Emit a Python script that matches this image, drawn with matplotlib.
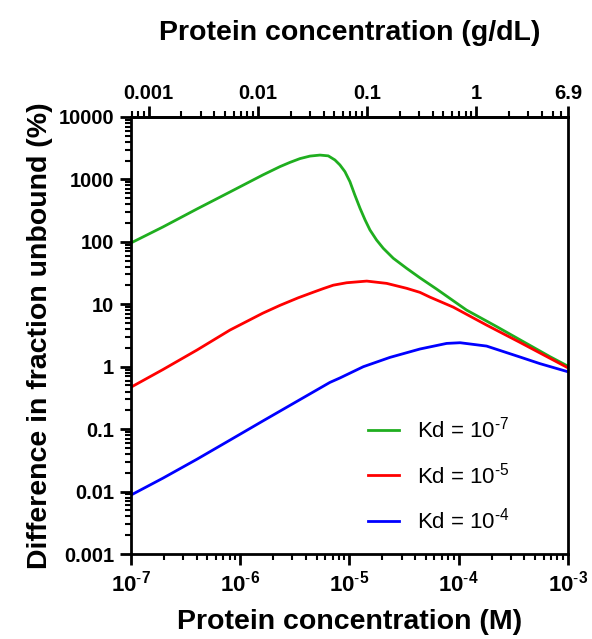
import numpy as np
import matplotlib
matplotlib.use("Agg")
import matplotlib.pyplot as plt
from matplotlib.ticker import LogLocator, NullFormatter, FixedLocator, FixedFormatter

plt.rcParams['font.family'] = ['Liberation Sans', 'DejaVu Sans']
plt.rcParams['mathtext.fontset'] = 'custom'
plt.rcParams['mathtext.rm'] = 'Liberation Sans'
plt.rcParams['mathtext.bf'] = 'Liberation Sans:bold'

# values (x in M, y in %)
green_x = [1e-7, 1.96e-7, 4.02e-7, 8.05e-7, 1.61e-6, 2.31e-6, 2.85e-6, 3.52e-6, 4.35e-6,
           5.37e-6, 6.4e-6, 7.36e-6, 8.18e-6, 9.09e-6, 1.01e-5, 1.12e-5, 1.25e-5, 1.39e-5,
           1.54e-5, 1.77e-5, 2.04e-5, 2.52e-5, 3.34e-5, 4.42e-5, 6.28e-5, 1.18e-4, 2.22e-4,
           3.64e-4, 6.84e-4, 1e-3]
green_y = [96, 173, 336, 628, 1177, 1600, 1870, 2150, 2360,
           2450, 2380, 2046, 1702, 1329, 919, 562, 344, 224,
           155, 107, 78.7, 54.5, 37.6, 26.5, 17.5, 8.07, 4.4,
           2.7, 1.45, 1.02]

red_x = [1e-7, 1.96e-7, 4.02e-7, 8.05e-7, 1.61e-6, 2.31e-6, 3.4e-6, 4.67e-6, 5.75e-6,
         7.11e-6, 9.42e-6, 1.44e-5, 2.19e-5, 3.34e-5, 4.42e-5, 5.46e-5, 8.91e-5, 1.8e-4,
         3.64e-4, 1e-3]
red_y = [0.47, 0.9, 1.85, 3.86, 7.2, 9.6, 12.7, 15.6, 17.8,
         20.2, 22.1, 23.5, 21.6, 18.0, 15.5, 13.0, 9.0, 4.64,
         2.45, 0.96]

blue_x = [1e-7, 1.96e-7, 4.02e-7, 8.05e-7, 1.61e-6, 3.3e-6, 6.62e-6, 8.18e-6, 1.34e-5,
          2.35e-5, 4.42e-5, 7.76e-5, 1.03e-4, 1.8e-4, 3.64e-4, 5.54e-4, 1e-3]
blue_y = [0.0088, 0.0164, 0.033, 0.0667, 0.135, 0.278, 0.56, 0.66, 1.0,
          1.41, 1.92, 2.36, 2.42, 2.14, 1.43, 1.12, 0.83]

labels = [r'Kd = 10$^{\text{-}7}$', r'Kd = 10$^{\text{-}5}$', r'Kd = 10$^{\text{-}4}$']
colors = ['#1fae1f', '#ff0000', '#0000ff']

x_ticks = [1e-7, 1e-6, 1e-5, 1e-4, 1e-3]
x_ticklabels = [r'$\mathbf{10^{\text{-}7}}$', r'$\mathbf{10^{\text{-}6}}$', r'$\mathbf{10^{\text{-}5}}$',
                r'$\mathbf{10^{\text{-}4}}$', r'$\mathbf{10^{\text{-}3}}$']
y_ticks = [0.001, 0.01, 0.1, 1, 10, 100, 1000, 10000]
y_ticklabels = ['0.001', '0.01', '0.1', '1', '10', '100', '1000', '10000']
top_ticks = [0.001, 0.01, 0.1, 1, 6.9]
top_ticklabels = ['0.001', '0.01', '0.1', '1', '6.9']
gdl_per_M = 6900.0

fig = plt.figure(figsize=(5.92, 6.39), dpi=100)
ax = fig.add_axes([0.2213, 0.133, 0.738, 0.684])

for xs, ys, c, lab in zip([green_x, red_x, blue_x], [green_y, red_y, blue_y], colors, labels):
    ax.plot(xs, ys, color=c, lw=2.0, label=lab)

ax.set_xscale('log')
ax.set_yscale('log')
ax.set_xlim(1e-7, 1e-3)
ax.set_ylim(0.001, 10000)

ax.xaxis.set_major_locator(FixedLocator(x_ticks))
ax.xaxis.set_major_formatter(FixedFormatter(x_ticklabels))
ax.xaxis.set_minor_locator(LogLocator(base=10, subs=np.arange(2, 10)))
ax.xaxis.set_minor_formatter(NullFormatter())
ax.yaxis.set_major_locator(FixedLocator(y_ticks))
ax.yaxis.set_major_formatter(FixedFormatter(y_ticklabels))
ax.yaxis.set_minor_locator(LogLocator(base=10, subs=np.arange(2, 10), numticks=20))
ax.yaxis.set_minor_formatter(NullFormatter())

for s in ax.spines.values():
    s.set_linewidth(2.0)
ax.tick_params(which='major', length=8, width=2, labelsize=14.5, pad=4)
ax.tick_params(axis='x', which='major', labelsize=16)
ax.tick_params(which='minor', length=4.5, width=1.5)
for t in ax.get_yticklabels():
    t.set_fontweight('bold')

ax.set_xlabel('Protein concentration (M)', fontsize=20.5, fontweight='bold', labelpad=9)
ax.set_ylabel('Difference in fraction unbound (%)', fontsize=20.5, fontweight='bold', labelpad=4)

top = ax.secondary_xaxis('top', functions=(lambda m: m * gdl_per_M, lambda g: g / gdl_per_M))
top.set_xscale('log')
top.xaxis.set_major_locator(FixedLocator(top_ticks))
top.xaxis.set_major_formatter(FixedFormatter(top_ticklabels))
top.xaxis.set_minor_locator(LogLocator(base=10, subs=np.arange(2, 10)))
top.xaxis.set_minor_formatter(NullFormatter())
top.tick_params(which='major', length=8, width=2, labelsize=14.5, pad=2)
top.tick_params(which='minor', length=4.5, width=1.5)
top.spines['top'].set_linewidth(2.0)
for t in top.get_xticklabels():
    t.set_fontweight('bold')
top.set_xlabel('Protein concentration (g/dL)', fontsize=20.5, fontweight='bold', labelpad=32)

ax.legend(loc='upper left', bbox_to_anchor=(0.497, 0.36), frameon=False, fontsize=16,
          handlelength=1.4, handletextpad=0.8, labelspacing=0.88)

fig.savefig('out.png', dpi=100)
